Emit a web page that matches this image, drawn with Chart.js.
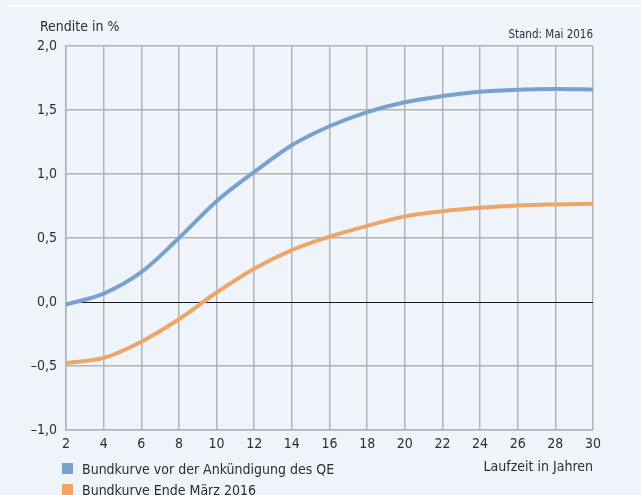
<!DOCTYPE html>
<html>
<head>
<meta charset="utf-8">
<script src="https://cdn.jsdelivr.net/npm/chart.js@4"></script>
<style>
  body { margin: 0; background: #eff3fa; }
  #wrap { position: relative; width: 641px; height: 495px; overflow: hidden;
          font-family: "Liberation Sans Narrow", "DejaVu Sans Condensed", Roboto, sans-serif; color: #2e2e2e; }
  #topline { position: absolute; left: 9px; right: 0; top: 5px; height: 2px; background: #fff; }
  .txt { position: absolute; white-space: nowrap; line-height: 18px; }
  #ytitle { left: 40px; top: 17px; font-size: 14px; }
  #stand { right: 48px; top: 25px; font-size: 11.5px; }
  #legend { position: absolute; left: 62px; top: 458px; font-size: 14px; }
  .item { height: 21px; display: flex; align-items: center; }
  .box { width: 11px; height: 11px; margin-right: 9px; }
  canvas { position: absolute; left: 0; top: 0; }
</style>
</head>
<body>
<div id="wrap">
  <div id="topline"></div>
  <canvas id="curveChart" width="641" height="495"></canvas>
  <div class="txt" id="ytitle">Rendite in %</div>
  <div class="txt" id="stand">Stand: Mai 2016</div>
  <div id="legend"></div>
</div>
<script>
// Laufzeit in Jahren
const years = [2, 4, 6, 8, 10, 12, 14, 16, 18, 20, 22, 24, 26, 28, 30];
// Rendite in %
const vorQE = [-0.02, 0.066, 0.233, 0.5, 0.788, 1.016, 1.225, 1.373, 1.484, 1.561, 1.609, 1.643, 1.659, 1.664, 1.661];
const endeMaerz = [-0.476, -0.437, -0.31, -0.135, 0.074, 0.26, 0.405, 0.51, 0.595, 0.669, 0.709, 0.736, 0.754, 0.762, 0.767];
const seriesNames = ['Bundkurve vor der Ankündigung des QE', 'Bundkurve Ende März 2016'];

const fontFam = '"Liberation Sans Narrow", "DejaVu Sans Condensed", Roboto, sans-serif';
const gridGray = '#b4b4b4';

function toPoints(vals) {
  return vals.map((v, i) => ({ x: years[i], y: v }));
}

const chart = new Chart('curveChart', {
  type: 'line',
  data: {
    datasets: [{
      label: seriesNames[0],
      data: toPoints(vorQE),
      borderColor: '#7aa1cd',
      backgroundColor: '#7aa1cd',
      borderWidth: 4,
      pointRadius: 0,
      cubicInterpolationMode: 'monotone',
      fill: false
    }, {
      label: seriesNames[1],
      data: toPoints(endeMaerz),
      borderColor: '#eca66a',
      backgroundColor: '#eca66a',
      borderWidth: 4,
      pointRadius: 0,
      cubicInterpolationMode: 'monotone',
      fill: false
    }]
  },
  options: {
    responsive: false,
    animation: false,
    devicePixelRatio: 1,
    layout: { padding: { top: 46, right: 48, left: 0, bottom: 0 } },
    plugins: { legend: { display: false }, tooltip: { enabled: false } },
    scales: {
      x: {
        type: 'linear',
        min: 2,
        max: 30,
        ticks: {
          stepSize: 2,
          padding: 6,
          color: '#2e2e2e',
          font: { family: fontFam, size: 14 },
          maxRotation: 0
        },
        grid: { color: gridGray, lineWidth: 1.5, drawTicks: false },
        border: { color: gridGray, width: 1.5 },
        title: {
          display: true,
          text: 'Laufzeit in Jahren',
          align: 'end',
          color: '#2e2e2e',
          font: { family: fontFam, size: 14, lineHeight: 1.2 },
          padding: { top: 0, bottom: 19 }
        },
        afterFit(scale) { scale.height = 65; }
      },
      y: {
        min: -1,
        max: 2,
        ticks: {
          stepSize: 0.5,
          padding: 9,
          color: '#2e2e2e',
          font: { family: fontFam, size: 14 },
          callback: v => v.toFixed(1).replace('.', ',').replace('-', '–')
        },
        grid: {
          color: ctx => ctx.tick && ctx.tick.value === 0 ? '#1a1a1a' : gridGray,
          lineWidth: ctx => ctx.tick && ctx.tick.value === 0 ? 1 : 1.5,
          drawTicks: false
        },
        border: { color: gridGray, width: 1.5 },
        afterFit(scale) { scale.width = 66; }
      }
    }
  }
});

// legend below the chart
const legend = document.getElementById('legend');
chart.data.datasets.forEach(ds => {
  const item = document.createElement('div');
  item.className = 'item';
  item.innerHTML = '<span class="box" style="background:' + ds.borderColor + '"></span><span>' + ds.label + '</span>';
  legend.appendChild(item);
});
</script>
</body>
</html>
